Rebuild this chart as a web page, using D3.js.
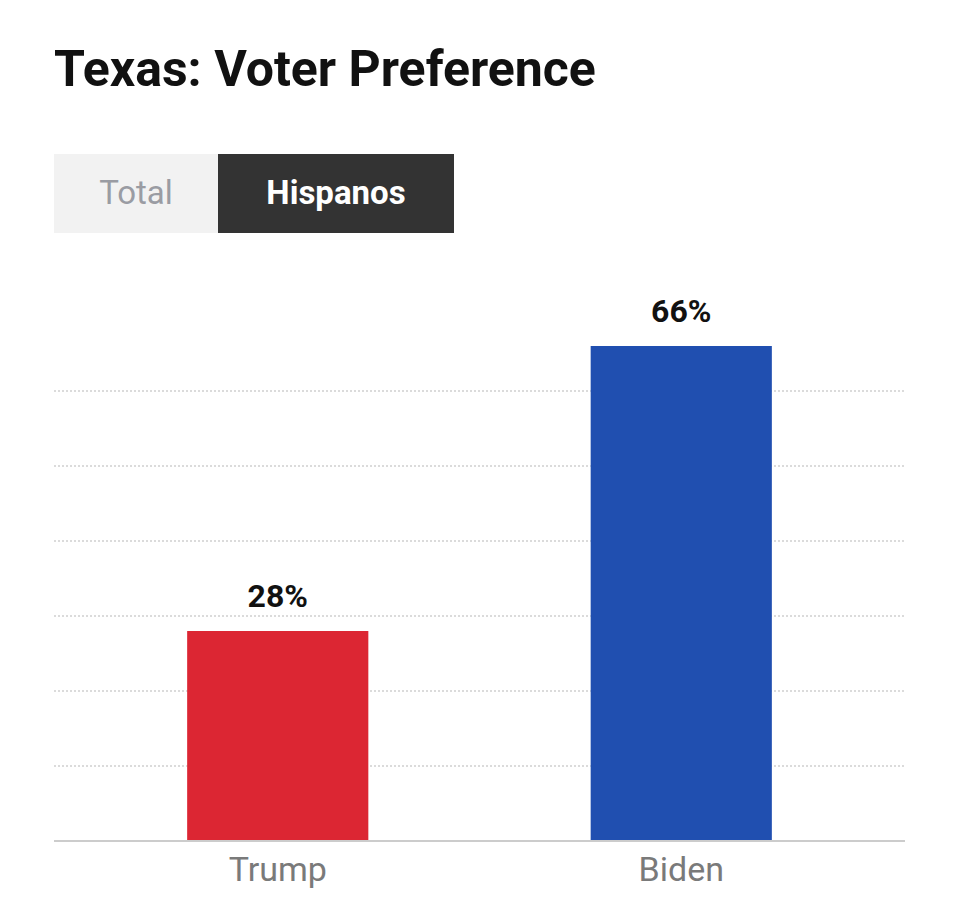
<!DOCTYPE html>
<html>
<head>
<meta charset="utf-8">
<script src="https://cdn.jsdelivr.net/npm/d3@7"></script>
<style>
  body { margin: 0; background: #fff; }
  svg { font-family: Roboto, "Noto Sans", sans-serif; }
</style>
</head>
<body>
<script>
// Chart data
const candidates = ["Trump", "Biden"];
const shares = [28, 66];
const barColors = ["#dc2633", "#204fb0"];
const gridTicks = [10, 20, 30, 40, 50, 60];
const tabs = ["Total", "Hispanos"];

const w = 960, h = 920;
const left = 54, right = 905, baseY = 841;

const svg = d3.select("body").append("svg")
  .attr("width", w).attr("height", h);

// Title
svg.append("text")
  .attr("x", left).attr("y", 86)
  .attr("font-size", 50).attr("font-weight", 700).attr("fill", "#111")
  .text("Texas: Voter Preference");

// Tabs
const tabX = d3.scaleOrdinal().domain(tabs).range([54, 218]);
const tabW = d3.scaleOrdinal().domain(tabs).range([164, 236]);
const tab = svg.selectAll("g.tab").data(tabs).join("g").attr("class", "tab");
tab.append("rect")
  .attr("x", d => tabX(d)).attr("y", 154)
  .attr("width", d => tabW(d)).attr("height", 79)
  .attr("fill", (d, i) => i === 1 ? "#333333" : "#f2f2f2");
tab.append("text")
  .attr("x", d => tabX(d) + tabW(d) / 2).attr("y", 204)
  .attr("text-anchor", "middle").attr("font-size", 33)
  .attr("font-weight", (d, i) => i === 1 ? 700 : 400)
  .attr("fill", (d, i) => i === 1 ? "#fff" : "#9a9ca3")
  .text(d => d);

// Scales
const x = d3.scaleBand().domain(candidates).range([left, right])
  .paddingInner(0.551).paddingOuter(0.33);
const y = d3.scaleLinear().domain([0, 60]).range([baseY, baseY - 450]);

// Grid lines
svg.append("g").selectAll("line").data(gridTicks).join("line")
  .attr("x1", left).attr("x2", right)
  .attr("y1", d => y(d)).attr("y2", d => y(d))
  .attr("stroke", "#cfcfcf").attr("stroke-width", 1.5)
  .attr("stroke-dasharray", "2,2");

// Bars
svg.append("g").selectAll("rect").data(candidates).join("rect")
  .attr("x", d => x(d)).attr("width", x.bandwidth())
  .attr("y", (d, i) => y(shares[i]))
  .attr("height", (d, i) => baseY - y(shares[i]))
  .attr("fill", (d, i) => barColors[i]);

// Value labels
svg.append("g").selectAll("text").data(candidates).join("text")
  .attr("x", d => x(d) + x.bandwidth() / 2)
  .attr("y", (d, i) => y(shares[i]) - 24)
  .attr("text-anchor", "middle").attr("font-size", 32).attr("font-weight", 700)
  .attr("fill", "#111")
  .text((d, i) => shares[i] + "%");

// Baseline
svg.append("line")
  .attr("x1", left).attr("x2", right).attr("y1", baseY).attr("y2", baseY)
  .attr("stroke", "#cccccc").attr("stroke-width", 2);

// Category axis
const xAxis = svg.append("g")
  .attr("transform", `translate(0, ${baseY})`)
  .call(d3.axisBottom(x).tickSize(0).tickPadding(16));
xAxis.select(".domain").remove();
xAxis.selectAll("text")
  .attr("font-size", 34).attr("fill", "#7a7a7a")
  .attr("font-family", "Roboto, sans-serif");
</script>
</body>
</html>
